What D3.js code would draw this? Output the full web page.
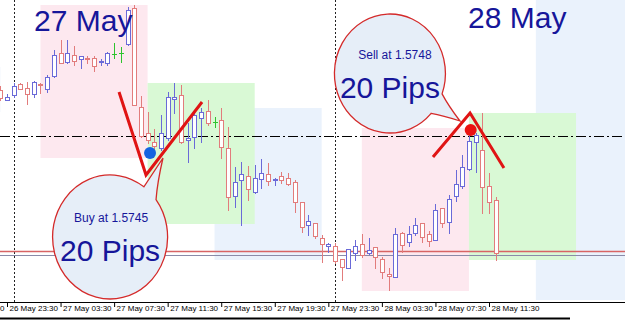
<!DOCTYPE html>
<html>
<head>
<meta charset="utf-8">
<script src="https://cdn.jsdelivr.net/npm/d3@7"></script>
<style>
  body{margin:0;background:#fff;}
  svg{display:block;}
</style>
</head>
<body>
<svg id="chart" width="625" height="320"></svg>
<script>
function at(d,h,m){ return new Date(2013,4,d,h,m); }

// M30 bars, first one is 26 May 23:00
var firstBar = at(26,23,0);
var opens  = [1.57510,1.57500,1.57505,1.57516,1.57512,1.57506,1.57516,1.57511,1.57524,1.57547,1.57538,1.57545,1.57541,1.57542,1.57542,1.57538,1.57537,1.57546,1.57547,1.57556,1.57592,1.57493,1.57467,1.57458,1.57452,1.57462,1.57501,1.57505,1.57460,1.57463,1.57482,1.57489,1.57478,1.57480,1.57452,1.57404,1.57420,1.57424,1.57408,1.57421,1.57426,1.57420,1.57424,1.57422,1.57418,1.57398,1.57375,1.57377,1.57362,1.57354,1.57354,1.57341,1.57332,1.57347,1.57356,1.57347,1.57353,1.57341,1.57326,1.57323,1.57367,1.57358,1.57367,1.57377,1.57366,1.57360,1.57392,1.57378,1.57404,1.57414,1.57431,1.57458,1.57450,1.57414,1.57400];
var highs  = [1.57514,1.57506,1.57517,1.57517,1.57518,1.57519,1.57517,1.57525,1.57550,1.57560,1.57560,1.57554,1.57544,1.57544,1.57544,1.57541,1.57548,1.57557,1.57553,1.57593,1.57595,1.57504,1.57488,1.57471,1.57485,1.57508,1.57517,1.57515,1.57477,1.57488,1.57492,1.57500,1.57483,1.57492,1.57473,1.57433,1.57438,1.57434,1.57435,1.57441,1.57437,1.57422,1.57428,1.57427,1.57420,1.57398,1.57385,1.57377,1.57365,1.57357,1.57357,1.57341,1.57351,1.57360,1.57366,1.57362,1.57353,1.57343,1.57332,1.57372,1.57368,1.57374,1.57382,1.57377,1.57369,1.57396,1.57392,1.57405,1.57430,1.57445,1.57465,1.57467,1.57487,1.57427,1.57403];
var lows   = [1.57500,1.57500,1.57503,1.57511,1.57496,1.57503,1.57507,1.57508,1.57523,1.57537,1.57537,1.57535,1.57532,1.57537,1.57529,1.57535,1.57535,1.57542,1.57538,1.57555,1.57495,1.57463,1.57457,1.57448,1.57450,1.57460,1.57487,1.57457,1.57438,1.57452,1.57458,1.57475,1.57473,1.57442,1.57390,1.57393,1.57375,1.57400,1.57407,1.57412,1.57415,1.57415,1.57417,1.57415,1.57388,1.57368,1.57365,1.57362,1.57338,1.57348,1.57337,1.57320,1.57332,1.57340,1.57343,1.57346,1.57332,1.57322,1.57310,1.57323,1.57348,1.57354,1.57365,1.57358,1.57354,1.57360,1.57373,1.57367,1.57399,1.57412,1.57430,1.57428,1.57387,1.57387,1.57340];
var closes = [1.57502,1.57503,1.57514,1.57511,1.57506,1.57518,1.57515,1.57523,1.57545,1.57537,1.57547,1.57539,1.57544,1.57541,1.57534,1.57539,1.57547,1.57546,1.57547,1.57590,1.57495,1.57464,1.57460,1.57454,1.57467,1.57503,1.57503,1.57458,1.57462,1.57485,1.57488,1.57477,1.57478,1.57453,1.57403,1.57418,1.57426,1.57411,1.57422,1.57427,1.57419,1.57421,1.57420,1.57416,1.57398,1.57373,1.57379,1.57364,1.57356,1.57356,1.57339,1.57333,1.57351,1.57354,1.57345,1.57350,1.57343,1.57328,1.57324,1.57366,1.57355,1.57366,1.57375,1.57363,1.57359,1.57390,1.57377,1.57401,1.57416,1.57433,1.57459,1.57465,1.57413,1.57398,1.57347];

// session boxes
var sessionKind  = ['us','asia','europe','us','asia','europe','us'];
var sessionStart = [at(26,15,0),at(27,2,0),at(27,10,0),at(27,15,0),at(28,2,0),at(28,10,0),at(28,15,0)];
var sessionEnd   = [at(26,23,0),at(27,10,0),at(27,18,0),at(27,23,0),at(28,10,0),at(28,18,0),at(28,23,0)];
var sessionHigh  = [1.57533,1.57595,1.57517,1.57492,1.57472,1.57487,1.57600];
var sessionLow   = [1.57488,1.57442,1.57376,1.57340,1.57309,1.57340,1.57300];

var daySeparators = [at(27,0,0),at(28,0,0)];
var dayLabels = ['27 May','28 May'];
var dayLabelTime = [at(27,1,31),at(28,9,56)];
var dayLabelPrice = [1.57569,1.57572];

var levelPrices = [1.57349,1.57345];
var dashDotPrice = 1.57464;

// trade annotations
var entryLabels = ['Buy at 1.5745','Sell at 1.5748'];
var pipLabels = ['20 Pips','20 Pips'];
var bubbleTime = [at(27,7,12),at(28,4,6)];
var bubblePrice = [1.57363,1.575265];
var tipTime = [at(27,11,9),at(28,9,20)];
var tipPrice = [1.57442,1.57479];
var entryTime = [at(27,10,11),at(28,10,8)];
var entryPrice = [1.57447,1.57470];
var buyVTime = [at(27,7,52),at(27,9,53),at(27,14,4)];
var buyVPrice = [1.57508,1.57425,1.57498];
var sellVTime = [at(28,7,19),at(28,10,5),at(28,12,37)];
var sellVPrice = [1.57443,1.57487,1.57432];

var W = 625, H = 320, axisY = 302;
var svg = d3.select('#chart');
var font = '"Liberation Sans", Arial, sans-serif';
var navy = '#16169a';

var x = d3.scaleTime()
  .domain([at(26,23,30),at(28,11,30)])
  .range([7,489]);
var y = d3.scaleLinear()
  .domain([1.573,1.576])
  .range([300,0]);

// sessions
var kindOrder = {us:0,asia:1,europe:2};
var kindFill = {us:'#eaf2fc',asia:'#fde8ef',europe:'#d9f9d5'};
var sessions = d3.range(sessionKind.length).map(function(i){
  return {kind:sessionKind[i],t0:sessionStart[i],t1:sessionEnd[i],hi:sessionHigh[i],lo:sessionLow[i]};
}).sort(function(a,b){return kindOrder[a.kind]-kindOrder[b.kind];});

svg.append('g').selectAll('rect')
  .data(sessions)
  .enter()
  .append('rect')
  .attr('x',function(d){return x(d.t0);})
  .attr('width',function(d){return x(d.t1)-x(d.t0);})
  .attr('y',function(d){return y(d.hi);})
  .attr('height',function(d){return y(d.lo)-y(d.hi);})
  .style('fill',function(d){return kindFill[d.kind];});

// day separators
svg.append('g').selectAll('line')
  .data(daySeparators)
  .enter()
  .append('line')
  .attr('x1',function(d){return Math.round(x(d))+0.5;})
  .attr('x2',function(d){return Math.round(x(d))+0.5;})
  .attr('y1',0)
  .attr('y2',axisY)
  .style('stroke','#222')
  .style('stroke-dasharray','2,2');

// horizontal levels
svg.append('g').selectAll('line')
  .data(levelPrices)
  .enter()
  .append('line')
  .attr('x1',0).attr('x2',W)
  .attr('y1',function(d){return Math.round(y(d))+0.5;})
  .attr('y2',function(d){return Math.round(y(d))+0.5;})
  .style('stroke',function(d,i){return i==0?'#d86464':'#8a8aa8';})
  .style('stroke-width',function(d,i){return i==0?1.4:1;});

svg.append('line')
  .attr('x1',0).attr('x2',W)
  .attr('y1',Math.round(y(dashDotPrice))+0.5)
  .attr('y2',Math.round(y(dashDotPrice))+0.5)
  .style('stroke','#000')
  .style('stroke-dasharray','10,3,2,3');

// candles
var bars = d3.range(opens.length).map(function(i){
  return {t:d3.timeMinute.offset(firstBar,30*i),o:opens[i],h:highs[i],l:lows[i],c:closes[i]};
});
function barColor(d){
  if (d.o==d.c) return '#2ec42e';
  return d.c>d.o ? '#6a6ad8' : '#e27c7c';
}
var candle = svg.append('g').selectAll('g')
  .data(bars)
  .enter()
  .append('g')
  .attr('transform',function(d){return 'translate('+Math.round(x(d.t))+',0)';});

candle.append('line')
  .attr('x1',0.5).attr('x2',0.5)
  .attr('y1',function(d){return Math.round(y(d.h));})
  .attr('y2',function(d){return Math.round(y(d.l))+1;})
  .style('stroke',barColor);

candle.filter(function(d){return d.o!=d.c;})
  .append('rect')
  .attr('x',-1.5)
  .attr('width',4)
  .attr('y',function(d){return Math.round(y(Math.max(d.o,d.c)))+0.5;})
  .attr('height',function(d){return Math.max(1,Math.round(Math.abs(y(d.o)-y(d.c))));})
  .style('fill','#fff')
  .style('stroke',barColor);

candle.filter(function(d){return d.o==d.c;})
  .append('line')
  .attr('x1',-2).attr('x2',3)
  .attr('y1',function(d){return Math.round(y(d.o))+0.5;})
  .attr('y2',function(d){return Math.round(y(d.o))+0.5;})
  .style('stroke',barColor);

// speech bubbles
var rx = [57.5,55.5], ry = [62,59.5];
var baseAngles = [[-37,-54],[42,20]];
function bubblePath(i){
  var cx = x(bubbleTime[i]), cy = y(bubblePrice[i]);
  function pt(a){var r=a*Math.PI/180; return [cx+rx[i]*Math.cos(r), cy+ry[i]*Math.sin(r)];}
  var p1 = pt(baseAngles[i][0]), p2 = pt(baseAngles[i][1]);
  var tx = x(tipTime[i]), ty = y(tipPrice[i]);
  var m1 = [(p2[0]+tx)/2-(tx-cx)*0.04,(p2[1]+ty)/2+(cy-ty)*0.04];
  var m2 = [(p1[0]+tx)/2-(tx-cx)*0.04,(p1[1]+ty)/2+(cy-ty)*0.04];
  return 'M'+p1+'A'+rx[i]+','+ry[i]+' 0 1 1 '+p2+'Q'+m1+' '+tx+','+ty+'Q'+m2+' '+p1+'Z';
}
var bubble = svg.append('g').selectAll('g')
  .data(entryLabels)
  .enter()
  .append('g');
bubble.append('path')
  .attr('d',function(d,i){return bubblePath(i);})
  .style('fill','#e6eef8')
  .style('stroke','#d42a2a')
  .style('stroke-width',1.3);
bubble.append('text')
  .attr('x',function(d,i){return x(bubbleTime[i])+(i==1?5:1);})
  .attr('y',function(d,i){return y(bubblePrice[i])-15;})
  .attr('text-anchor','middle')
  .style('font-family',font)
  .style('font-size','12px')
  .style('fill',navy)
  .text(function(d){return d;});
bubble.append('text')
  .attr('x',function(d,i){return x(bubbleTime[i]);})
  .attr('y',function(d,i){return y(bubblePrice[i])+24;})
  .attr('text-anchor','middle')
  .style('font-family',font)
  .style('font-size','30px')
  .style('fill',navy)
  .text(function(d,i){return pipLabels[i];});

// V marks
var vLine = d3.line()
  .x(function(d){return x(d[0]);})
  .y(function(d){return y(d[1]);});
[[buyVTime,buyVPrice],[sellVTime,sellVPrice]].forEach(function(v){
  svg.append('path')
    .attr('d',vLine(d3.zip(v[0],v[1])))
    .style('fill','none')
    .style('stroke','#e01414')
    .style('stroke-width',3);
});

svg.append('g').selectAll('circle')
  .data(entryTime)
  .enter()
  .append('circle')
  .attr('cx',function(d){return x(d);})
  .attr('cy',function(d,i){return y(entryPrice[i]);})
  .attr('r',6)
  .style('fill',function(d,i){return i==0?'#1464e0':'#ea1010';});

// day labels
svg.append('g').selectAll('text')
  .data(dayLabels)
  .enter()
  .append('text')
  .attr('x',function(d,i){return x(dayLabelTime[i]);})
  .attr('y',function(d,i){return y(dayLabelPrice[i]);})
  .style('font-family',font)
  .style('font-size','30px')
  .style('fill',navy)
  .text(function(d){return d;});

// time axis
var tickTimes = d3.timeMinute.range(at(26,19,30),at(28,12,0),240);
var axis = svg.append('g')
  .attr('transform','translate(0,'+axisY+')')
  .call(d3.axisBottom(x).tickValues(tickTimes).tickSize(5).tickFormat(d3.timeFormat('%d %b %H:%M')));
axis.select('.domain').remove();
axis.selectAll('text')
  .attr('text-anchor','start')
  .attr('x',2)
  .attr('y',3)
  .style('font-family',font)
  .style('font-size','8px')
  .style('fill','#000');
axis.append('line')
  .attr('x1',0).attr('x2',W)
  .attr('y1',0.5).attr('y2',0.5)
  .style('stroke','#000');

svg.append('line')
  .attr('x1',0).attr('x2',570)
  .attr('y1',H-1.5).attr('y2',H-1.5)
  .style('stroke','#000')
  .style('stroke-width',2);
</script>
</body>
</html>
